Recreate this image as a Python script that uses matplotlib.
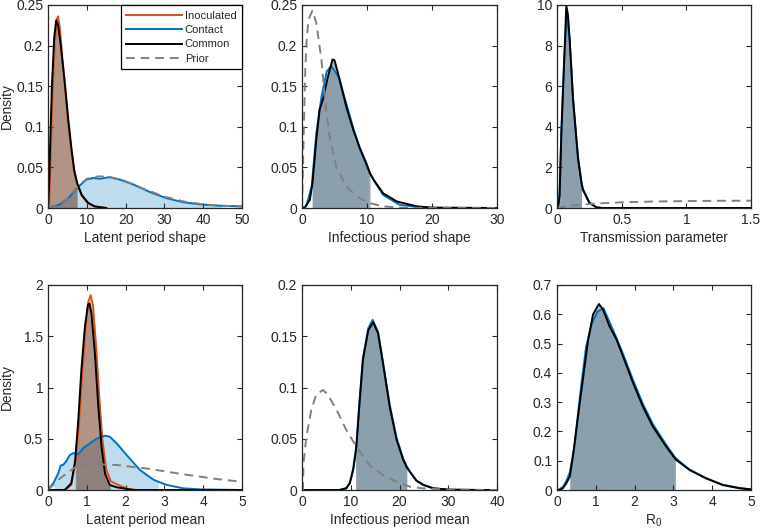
import numpy as np
import matplotlib
matplotlib.use("Agg")
import matplotlib.pyplot as plt

plt.rcParams['font.family'] = ['Liberation Sans', 'DejaVu Sans']
plt.rcParams['mathtext.fontset'] = 'custom'
plt.rcParams['mathtext.rm'] = 'Liberation Sans'
plt.rcParams['mathtext.it'] = 'Liberation Sans'
plt.rcParams['mathtext.default'] = 'regular'

# ---------------- data ----------------
# Panel 1: Latent period shape
p1_inoc_x = [0, 0.3, 0.6, 1.1, 1.7, 2.3, 2.6, 3.1, 3.7, 4.4, 5.1, 5.9, 6.6, 7.5, 8.6, 10, 12, 15]
p1_inoc_y = [0, 0.005, 0.05, 0.13, 0.2, 0.233, 0.236, 0.22, 0.185, 0.15, 0.11, 0.075, 0.05, 0.03, 0.016, 0.007, 0.002, 0]
p1_comm_x = [0, 0.3, 0.5, 1.0, 1.6, 2.1, 2.6, 3.3, 4.3, 5.2, 6.1, 6.8, 7.5, 8.7, 10.4, 12, 15]
p1_comm_y = [0, 0.03, 0.07, 0.15, 0.21, 0.231, 0.225, 0.2, 0.155, 0.11, 0.071, 0.045, 0.031, 0.016, 0.006, 0.002, 0]
p1_cont_x = [0, 0.5, 3, 5.6, 7.8, 9.9, 11.6, 13.4, 15.9, 18.5, 22, 26.3, 30.6, 34.9, 39.2, 43.5, 45, 50]
p1_cont_y = [0, 0.001, 0.004, 0.014, 0.026, 0.035, 0.037, 0.036, 0.038, 0.035, 0.029, 0.0195, 0.012, 0.007, 0.0045, 0.003, 0.0027, 0.002]
p1_prior_x = [0, 2, 5, 8, 10, 13, 16, 20, 25, 30, 35, 40, 45, 50]
p1_prior_y = [0, 0.002, 0.012, 0.028, 0.036, 0.039, 0.038, 0.033, 0.023, 0.014, 0.008, 0.0045, 0.0028, 0.0018]
p1_ci_inoc = [0.3, 7.5]
p1_ci_comm = [0.3, 7.5]
p1_ci_cont = [0.5, 45]

# Panel 2: Infectious period shape
p2_cont_x = [0, 0.6, 1.0, 1.5, 2.2, 3.0, 3.8, 4.5, 5.6, 6.8, 7.9, 8.9, 9.9, 10.3, 11.2, 12.5, 15, 18, 20, 30]
p2_cont_y = [0, 0.002, 0.012, 0.027, 0.092, 0.137, 0.168, 0.175, 0.162, 0.129, 0.098, 0.072, 0.053, 0.045, 0.032, 0.016, 0.004, 0.001, 0, 0]
p2_comm_x = [0, 0.4, 1.2, 1.6, 2.2, 2.7, 3.2, 4.0, 4.7, 5.0, 5.8, 6.8, 7.9, 8.9, 9.9, 10.5, 11, 12.5, 14.6, 17.7, 20, 30]
p2_comm_y = [0, 0, 0.01, 0.03, 0.084, 0.121, 0.133, 0.162, 0.183, 0.182, 0.158, 0.125, 0.096, 0.074, 0.055, 0.042, 0.035, 0.018, 0.008, 0.002, 0.0005, 0]
p2_prior_x = [0, 0.2, 0.5, 0.7, 1.0, 1.6, 2.2, 3.0, 3.5, 4.3, 5.3, 6.8, 8.4, 10.4, 12.5, 15, 20, 30]
p2_prior_y = [0, 0.07, 0.17, 0.205, 0.232, 0.243, 0.228, 0.182, 0.135, 0.085, 0.05, 0.027, 0.014, 0.006, 0.002, 0.0005, 0, 0]
p2_ci_cont = [1.5, 10.3]
p2_ci_comm = [1.6, 10.5]

# Panel 3: Transmission parameter
p3_cont_x = [0, 0.01, 0.02, 0.034, 0.054, 0.075, 0.098, 0.124, 0.163, 0.19, 0.2, 0.25, 0.305, 0.35, 1.5]
p3_cont_y = [0, 0.1, 0.8, 3.9, 7.1, 9.6, 8.3, 5.4, 2.5, 1.25, 0.95, 0.28, 0.04, 0, 0]
p3_comm_x = [0, 0.008, 0.02, 0.034, 0.054, 0.072, 0.085, 0.098, 0.124, 0.163, 0.19, 0.2, 0.25, 0.305, 0.35, 1.5]
p3_comm_y = [0, 0, 0.6, 3.7, 7.0, 9.97, 9.5, 8.3, 5.35, 2.4, 1.2, 0.9, 0.25, 0.03, 0, 0]
p3_prior_x = [0, 0.1, 0.3, 0.5, 0.75, 1.0, 1.25, 1.5]
p3_prior_y = [0, 0.12, 0.22, 0.28, 0.32, 0.34, 0.355, 0.36]
p3_ci_cont = [0.02, 0.19]
p3_ci_comm = [0.02, 0.19]

# Panel 4: Latent period mean
p4_inoc_x = [0, 0.45, 0.6, 0.72, 0.8, 0.88, 0.97, 1.04, 1.1, 1.16, 1.24, 1.32, 1.4, 1.5, 1.62, 1.75, 1.9, 2.05, 2.3, 5]
p4_inoc_y = [0, 0, 0.05, 0.3, 0.65, 1.12, 1.58, 1.84, 1.90, 1.8, 1.4, 0.92, 0.5, 0.2, 0.085, 0.06, 0.035, 0.012, 0, 0]
p4_comm_x = [0, 0.43, 0.6, 0.69, 0.7, 0.78, 0.86, 0.95, 1.03, 1.07, 1.12, 1.21, 1.29, 1.38, 1.47, 1.59, 1.6, 1.77, 1.94, 2.2, 5]
p4_comm_y = [0, 0, 0.065, 0.26, 0.29, 0.68, 1.17, 1.59, 1.81, 1.82, 1.72, 1.33, 0.85, 0.42, 0.16, 0.05, 0.048, 0.026, 0.016, 0, 0]
p4_cont_x = [0, 0.13, 0.15, 0.26, 0.33, 0.39, 0.47, 0.56, 0.65, 0.78, 0.91, 1.08, 1.25, 1.47, 1.59, 1.77, 2.03, 2.37, 2.72, 2.85, 3.06, 3.49, 3.92, 5]
p4_cont_y = [0, 0.065, 0.075, 0.16, 0.24, 0.245, 0.28, 0.34, 0.36, 0.35, 0.41, 0.455, 0.5, 0.53, 0.52, 0.455, 0.34, 0.195, 0.1, 0.08, 0.05, 0.016, 0.006, 0]
p4_prior_x = [0, 0.04, 0.3, 0.73, 1.34, 1.77, 2.63, 3.49, 4.35, 5]
p4_prior_y = [0, 0.016, 0.11, 0.23, 0.25, 0.244, 0.205, 0.153, 0.107, 0.08]
p4_ci_inoc = [0.72, 1.62]
p4_ci_comm = [0.7, 1.6]
p4_ci_cont = [0.15, 2.85]

# Panel 5: Infectious period mean
p5_comm_x = [0, 7.7, 9.1, 9.8, 10.5, 11.0, 11.2, 11.8, 12.5, 13.6, 14.6, 15.6, 16.6, 18.0, 19.4, 20.8, 21.5, 22.1, 23.5, 24.9, 26.9, 30.3, 37, 40]
p5_comm_y = [0, 0, 0.0016, 0.0065, 0.0195, 0.036, 0.045, 0.085, 0.127, 0.156, 0.1636, 0.153, 0.124, 0.081, 0.049, 0.029, 0.022, 0.018, 0.009, 0.005, 0.0016, 0.0003, 0, 0]
p5_cont_x = [0, 7.7, 9.1, 9.8, 10.5, 11.0, 11.2, 11.8, 12.5, 13.6, 14.5, 15.6, 16.6, 18.0, 19.4, 20.8, 21.5, 22.1, 23.5, 24.9, 26.9, 30.3, 37, 40]
p5_cont_y = [0, 0, 0.002, 0.007, 0.021, 0.038, 0.047, 0.087, 0.129, 0.158, 0.166, 0.154, 0.125, 0.083, 0.051, 0.030, 0.023, 0.018, 0.009, 0.005, 0.0017, 0.0003, 0, 0]
p5_prior_x = [0, 0.2, 0.3, 0.9, 1.9, 2.9, 4.3, 5.3, 7.1, 9.1, 11.2, 13.9, 16.6, 19.4, 22.1, 24.9, 30, 40]
p5_prior_y = [0, 0, 0.026, 0.052, 0.078, 0.093, 0.0976, 0.093, 0.078, 0.0585, 0.042, 0.024, 0.0146, 0.008, 0.0033, 0.0016, 0.0003, 0]
p5_ci_cont = [11.0, 21.5]
p5_ci_comm = [11.0, 21.5]

# Panel 6: R0
p6_comm_x = [0, 0.07, 0.15, 0.24, 0.33, 0.41, 0.54, 0.67, 0.8, 0.93, 1.08, 1.18, 1.35, 1.53, 1.7, 1.96, 2.21, 2.47, 2.81, 3.05, 3.07, 3.41, 3.84, 4.27, 4.7, 5]
p6_comm_y = [0, 0, 0.006, 0.023, 0.046, 0.114, 0.25, 0.38, 0.51, 0.6, 0.635, 0.618, 0.56, 0.515, 0.457, 0.366, 0.286, 0.217, 0.149, 0.106, 0.103, 0.069, 0.04, 0.017, 0.006, 0.002]
p6_cont_x = [0, 0.03, 0.15, 0.24, 0.33, 0.45, 0.6, 0.75, 0.9, 1.05, 1.2, 1.35, 1.53, 1.7, 1.96, 2.21, 2.47, 2.81, 3.05, 3.41, 3.84, 4.27, 4.7, 5]
p6_cont_y = [0, 0, 0.01, 0.03, 0.06, 0.15, 0.33, 0.49, 0.57, 0.61, 0.62, 0.575, 0.52, 0.465, 0.375, 0.295, 0.225, 0.155, 0.11, 0.07, 0.04, 0.018, 0.007, 0.002]
p6_ci_cont = [0.33, 3.05]
p6_ci_comm = [0.33, 3.05]

# axis labels / ticks
xlabels = ["Latent period shape", "Infectious period shape", "Transmission parameter",
           "Latent period mean", "Infectious period mean", "R$_0$"]
xticks = [[0, 10, 20, 30, 40, 50], [0, 10, 20, 30], [0, 0.5, 1, 1.5],
          [0, 1, 2, 3, 4, 5], [0, 10, 20, 30, 40], [0, 1, 2, 3, 4, 5]]
yticks = [[0, 0.05, 0.1, 0.15, 0.2, 0.25], [0, 0.05, 0.1, 0.15, 0.2, 0.25], [0, 2, 4, 6, 8, 10],
          [0, 0.5, 1, 1.5, 2], [0, 0.05, 0.1, 0.15, 0.2], [0, 0.1, 0.2, 0.3, 0.4, 0.5, 0.6, 0.7]]
legend_labels = ["Inoculated", "Contact", "Common", "Prior"]

# ---------------- style ----------------
C_INOC = '#D95319'
C_CONT = '#0072BD'
C_COMM = 'black'
C_PRIOR = (0.5, 0.5, 0.5)
AXC = (0.15, 0.15, 0.15)
LW = 1.4

fig = plt.figure(figsize=(7.6, 5.3), dpi=100)
W, H = 760.0, 530.0
cols = [(48, 242), (302, 497), (557, 751)]
rows = [(5, 208), (285, 490)]
axes = []
for r in rows:
    for c in cols:
        ax = fig.add_axes([c[0] / W, 1 - r[1] / H, (c[1] - c[0]) / W, (r[1] - r[0]) / H])
        axes.append(ax)


def fmt(v):
    return '%g' % v


def shade(ax, x, y, ci, color, alpha):
    x = np.asarray(x, float)
    y = np.asarray(y, float)
    m = (x >= ci[0] - 1e-9) & (x <= ci[1] + 1e-9)
    ax.fill_between(x[m], 0, y[m], color=color, alpha=alpha, linewidth=0)


def line(ax, x, y, color, dashed=False, label=None):
    if dashed:
        ax.plot(x, y, color=color, lw=LW, dashes=(4.5, 3), label=label)
    else:
        ax.plot(x, y, color=color, lw=LW, label=label)


panels = [
    dict(inoc=(p1_inoc_x, p1_inoc_y, p1_ci_inoc), cont=(p1_cont_x, p1_cont_y, p1_ci_cont),
         comm=(p1_comm_x, p1_comm_y, p1_ci_comm), prior=(p1_prior_x, p1_prior_y)),
    dict(inoc=None, cont=(p2_cont_x, p2_cont_y, p2_ci_cont),
         comm=(p2_comm_x, p2_comm_y, p2_ci_comm), prior=(p2_prior_x, p2_prior_y)),
    dict(inoc=None, cont=(p3_cont_x, p3_cont_y, p3_ci_cont),
         comm=(p3_comm_x, p3_comm_y, p3_ci_comm), prior=(p3_prior_x, p3_prior_y)),
    dict(inoc=(p4_inoc_x, p4_inoc_y, p4_ci_inoc), cont=(p4_cont_x, p4_cont_y, p4_ci_cont),
         comm=(p4_comm_x, p4_comm_y, p4_ci_comm), prior=(p4_prior_x, p4_prior_y)),
    dict(inoc=None, cont=(p5_cont_x, p5_cont_y, p5_ci_cont),
         comm=(p5_comm_x, p5_comm_y, p5_ci_comm), prior=(p5_prior_x, p5_prior_y)),
    dict(inoc=None, cont=(p6_cont_x, p6_cont_y, p6_ci_cont),
         comm=(p6_comm_x, p6_comm_y, p6_ci_comm), prior=None),
]

for i, (ax, p) in enumerate(zip(axes, panels)):
    shade(ax, *p['cont'], C_CONT, 0.25)
    if p['inoc'] is not None:
        shade(ax, *p['inoc'], C_INOC, 0.3)
    shade(ax, *p['comm'], 'black', 0.27)
    if p['inoc'] is not None:
        line(ax, p['inoc'][0], p['inoc'][1], C_INOC, label=legend_labels[0])
    line(ax, p['cont'][0], p['cont'][1], C_CONT, label=legend_labels[1])
    line(ax, p['comm'][0], p['comm'][1], C_COMM, label=legend_labels[2])
    if p['prior'] is not None:
        line(ax, p['prior'][0], p['prior'][1], C_PRIOR, dashed=True, label=legend_labels[3])

    xt, yt = xticks[i], yticks[i]
    ax.set_xlim(xt[0], xt[-1])
    ax.set_ylim(yt[0], yt[-1])
    ax.set_xticks(xt)
    ax.set_xticklabels([fmt(v) for v in xt])
    ax.set_yticks(yt)
    ax.set_yticklabels([fmt(v) for v in yt])
    ax.tick_params(direction='in', length=3.5, width=0.8, top=True, right=True,
                   labelsize=10, colors=AXC, pad=3.5)
    for s in ax.spines.values():
        s.set_color(AXC)
        s.set_linewidth(0.9)
    ax.set_xlabel(xlabels[i], fontsize=9.9, color=AXC, labelpad=3)
    if i in (0, 3):
        ax.set_ylabel("Density", fontsize=9.9, color=AXC)
        ax.yaxis.set_label_coords(-0.175, 0.5)

leg = axes[0].legend(loc='upper right', bbox_to_anchor=(1.0, 1.0), borderaxespad=0,
                     fontsize=8, handlelength=5.0, handletextpad=0.25, labelspacing=0.4,
                     borderpad=0.5, fancybox=False, framealpha=1)
leg.get_frame().set_edgecolor('black')
leg.get_frame().set_linewidth(0.9)
for t in leg.get_texts():
    t.set_color(AXC)

fig.savefig("out.png", dpi=100)
